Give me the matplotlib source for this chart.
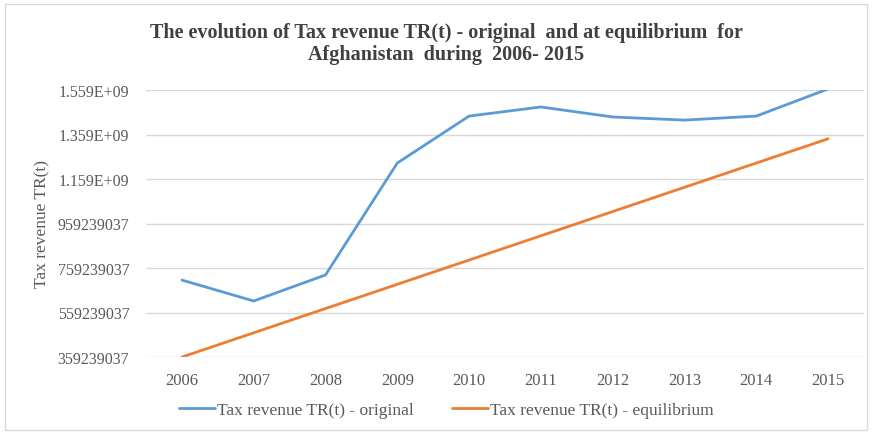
import matplotlib.pyplot as plt
from matplotlib.patches import Rectangle

# data
years = ['2006', '2007', '2008', '2009', '2010', '2011', '2012', '2013', '2014', '2015']
tr_original = [705e6, 611e6, 728e6, 1231e6, 1442e6, 1483e6, 1438e6, 1424e6, 1442e6, 1564e6]
tr_equilibrium = [359e6, 468e6, 577e6, 686e6, 795e6, 904e6, 1013e6, 1122e6, 1231e6, 1340e6]
y_ticks = [359239037, 559239037, 759239037, 959239037, 1159239037, 1359239037, 1559239037]
y_tick_labels = ['359239037', '559239037', '759239037', '959239037',
                 '1.159E+09', '1.359E+09', '1.559E+09']

plt.rcParams['font.family'] = ['Liberation Serif', 'DejaVu Serif']

fig = plt.figure(figsize=(8.72, 4.35), dpi=100)
ax = fig.add_axes([146 / 872, 1 - 358 / 435, 718 / 872, 267 / 435])

x = range(len(years))
ax.plot(x, tr_original, color='#5B9BD5', lw=2.0, label='Tax revenue TR(t) - original',
        solid_capstyle='round')
ax.plot(x, tr_equilibrium, color='#ED7D31', lw=2.0, label='Tax revenue TR(t) - equilibrium',
        solid_capstyle='round')

ax.set_xlim(-0.5, len(years) - 0.5)
ax.set_ylim(y_ticks[0], y_ticks[-1])
ax.set_xticks(list(x))
ax.set_xticklabels(years, fontsize=12, color='#595959')
ax.set_yticks(y_ticks)
ax.set_yticklabels(y_tick_labels, fontsize=11.5, color='#595959')
ax.tick_params(length=0, pad=12)
ax.tick_params(axis='x', pad=11)
ax.grid(axis='y', color='#D9D9D9', lw=1)
ax.set_axisbelow(True)
for s in ax.spines.values():
    s.set_visible(False)

ax.set_ylabel('Tax revenue TR(t)', fontsize=12.5, color='#595959', labelpad=5)

fig.text(446 / 872, 1 - 44 / 435,
         'The evolution of Tax revenue TR(t) - original  and at equilibrium  for\n'
         'Afghanistan  during  2006- 2015',
         ha='center', va='center', fontsize=14.5, fontweight='bold', color='#404040',
         linespacing=1.15)

ax.legend(loc='center', bbox_to_anchor=(446 / 872, 1 - 411 / 435),
          bbox_transform=fig.transFigure, ncol=2, frameon=False, fontsize=12.5,
          handlelength=2.1, columnspacing=2.2, handletextpad=0.1,
          labelcolor='#595959')

fig.add_artist(Rectangle((5 / 872, 4 / 435), 862 / 872, 426 / 435,
                         transform=fig.transFigure, fill=False,
                         edgecolor='#D9D9D9', lw=1))

fig.savefig('out.png', dpi=100)
